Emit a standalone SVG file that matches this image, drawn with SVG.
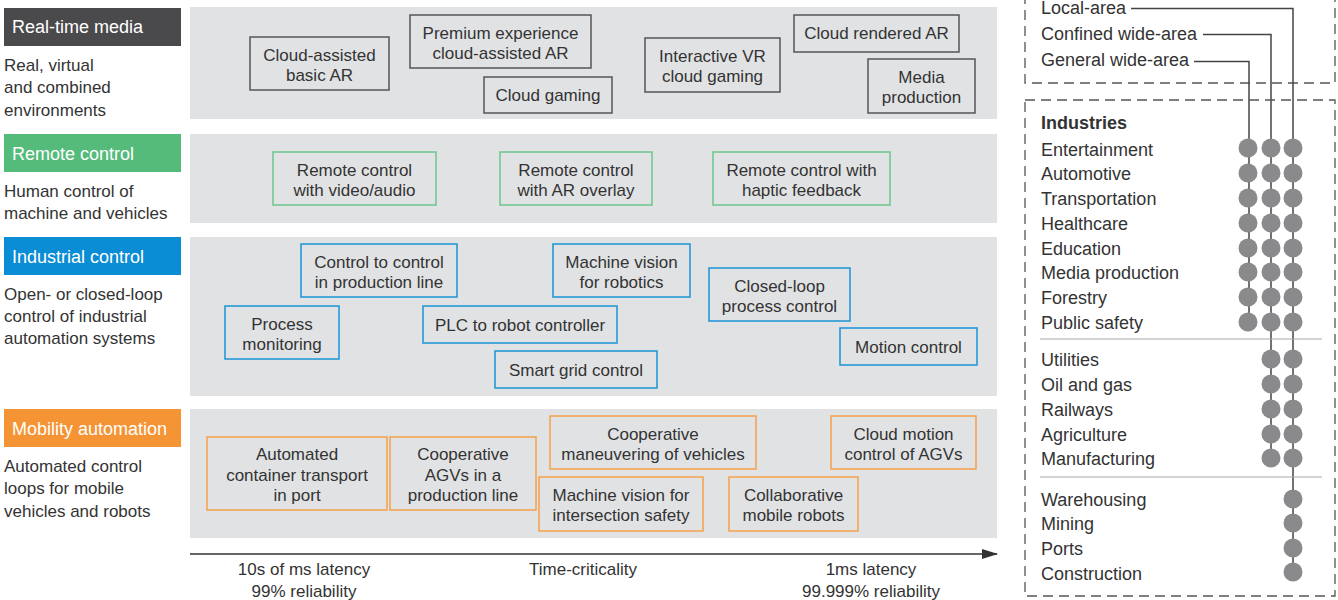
<svg xmlns="http://www.w3.org/2000/svg" width="1338" height="600" viewBox="0 0 1338 600">
<style>
text{font-family:"Liberation Sans",Arial,sans-serif;font-size:17px;fill:#333}
.cat{fill:#fff;font-size:18px}
.rp text{font-size:18px}
.c{text-anchor:middle}
.panel{fill:#e1e2e4}
.n rect{fill:#e1e2e4;stroke-width:1.5}
.rtm rect{stroke:#555}
.rc rect{stroke:#6cc68c}
.ic rect{stroke:#1a94d6}
.ma rect{stroke:#f5a04a}
.dash{fill:none;stroke:#555;stroke-width:1.3;stroke-dasharray:10 6}
.vl{stroke:#444;stroke-width:1.5;fill:none}
.dot{fill:#8a8a8c}
.sep{stroke:#aaa;stroke-width:1.2}
</style>
<defs>
<marker id="arr" markerWidth="16" markerHeight="12" refX="15" refY="5" orient="auto" markerUnits="userSpaceOnUse"><path d="M0,0 L16,5 L0,10 Z" fill="#333"/></marker>
</defs>

<!-- categories -->
<g id="cat-rtm"><rect x="4" y="8" width="177" height="38" fill="#4a4a4c"/><text class="cat" x="12" y="33">Real-time media</text>
<text x="4" y="71">Real, virtual</text><text x="4" y="93">and combined</text><text x="4" y="116">environments</text></g>
<g id="cat-rc"><rect x="4" y="134" width="177" height="38" fill="#55bb7b"/><text class="cat" x="12" y="160">Remote control</text>
<text x="4" y="197">Human control of</text><text x="4" y="219">machine and vehicles</text></g>
<g id="cat-ic"><rect x="4" y="237" width="177" height="38" fill="#0a8dd4"/><text class="cat" x="12" y="263">Industrial control</text>
<text x="4" y="300">Open-  or closed-loop</text><text x="4" y="322">control of industrial</text><text x="4" y="344">automation systems</text></g>
<g id="cat-ma"><rect x="4" y="409" width="177" height="38" fill="#f59435"/><text class="cat" x="12" y="435">Mobility automation</text>
<text x="4" y="472">Automated control</text><text x="4" y="494">loops for mobile</text><text x="4" y="517">vehicles and robots</text></g>

<!-- panels -->
<rect class="panel" x="190" y="7" width="807" height="112"/>
<rect class="panel" x="190" y="134" width="807" height="89"/>
<rect class="panel" x="190" y="237" width="807" height="159"/>
<rect class="panel" x="190" y="409" width="807" height="129"/>

<!-- real-time media nodes -->
<g id="n1" class="n rtm"><rect x="250" y="37" width="139" height="53"/><text class="c" x="319.5" y="61">Cloud-assisted</text><text class="c" x="319.5" y="81">basic AR</text></g>
<g id="n2" class="n rtm"><rect x="410" y="15" width="181" height="53"/><text class="c" x="500.5" y="39">Premium experience</text><text class="c" x="500.5" y="59">cloud-assisted AR</text></g>
<g id="n3" class="n rtm"><rect x="484" y="77" width="128" height="36"/><text class="c" x="548" y="101">Cloud gaming</text></g>
<g id="n4" class="n rtm"><rect x="645" y="38" width="135" height="54"/><text class="c" x="712.5" y="62">Interactive VR</text><text class="c" x="712.5" y="82">cloud gaming</text></g>
<g id="n5" class="n rtm"><rect x="794" y="15" width="165" height="37"/><text class="c" x="876.5" y="39">Cloud rendered AR</text></g>
<g id="n6" class="n rtm"><rect x="868" y="59" width="107" height="54"/><text class="c" x="921.5" y="83">Media</text><text class="c" x="921.5" y="103">production</text></g>

<!-- remote control nodes -->
<g id="n7" class="n rc"><rect x="273" y="152" width="163" height="53"/><text class="c" x="354.5" y="176">Remote control</text><text class="c" x="354.5" y="196">with video/audio</text></g>
<g id="n8" class="n rc"><rect x="500" y="152" width="152" height="53"/><text class="c" x="576" y="176">Remote control</text><text class="c" x="576" y="196">with AR overlay</text></g>
<g id="n9" class="n rc"><rect x="713" y="152" width="177" height="53"/><text class="c" x="801.5" y="176">Remote control with</text><text class="c" x="801.5" y="196">haptic feedback</text></g>

<!-- industrial control nodes -->
<g id="n10" class="n ic"><rect x="301" y="244" width="156" height="53"/><text class="c" x="379" y="268">Control to control</text><text class="c" x="379" y="288">in production line</text></g>
<g id="n11" class="n ic"><rect x="225" y="306" width="114" height="53"/><text class="c" x="282" y="330">Process</text><text class="c" x="282" y="350">monitoring</text></g>
<g id="n12" class="n ic"><rect x="423" y="306" width="194" height="37"/><text class="c" x="520" y="331">PLC to robot controller</text></g>
<g id="n13" class="n ic"><rect x="495" y="351" width="162" height="37"/><text class="c" x="576" y="376">Smart grid control</text></g>
<g id="n14" class="n ic"><rect x="553" y="244" width="137" height="53"/><text class="c" x="621.5" y="268">Machine vision</text><text class="c" x="621.5" y="288">for robotics</text></g>
<g id="n15" class="n ic"><rect x="709" y="268" width="141" height="53"/><text class="c" x="779.5" y="292">Closed-loop</text><text class="c" x="779.5" y="312">process control</text></g>
<g id="n16" class="n ic"><rect x="840" y="328" width="137" height="37"/><text class="c" x="908.5" y="353">Motion control</text></g>

<!-- mobility automation nodes -->
<g id="n17" class="n ma"><rect x="207" y="437" width="180" height="73"/><text class="c" x="297" y="460">Automated</text><text class="c" x="297" y="481">container transport</text><text class="c" x="297" y="501">in port</text></g>
<g id="n18" class="n ma"><rect x="390" y="437" width="146" height="73"/><text class="c" x="463" y="460">Cooperative</text><text class="c" x="463" y="481">AGVs in a</text><text class="c" x="463" y="501">production line</text></g>
<g id="n19" class="n ma"><rect x="550" y="416" width="206" height="53"/><text class="c" x="653" y="440">Cooperative</text><text class="c" x="653" y="460">maneuvering of vehicles</text></g>
<g id="n20" class="n ma"><rect x="539" y="477" width="164" height="54"/><text class="c" x="621" y="501">Machine vision for</text><text class="c" x="621" y="521">intersection safety</text></g>
<g id="n21" class="n ma"><rect x="729" y="477" width="129" height="54"/><text class="c" x="793.5" y="501">Collaborative</text><text class="c" x="793.5" y="521">mobile robots</text></g>
<g id="n22" class="n ma"><rect x="831" y="416" width="145" height="53"/><text class="c" x="903.5" y="440">Cloud motion</text><text class="c" x="903.5" y="460">control of AGVs</text></g>

<!-- axis -->
<g id="axis">
<line x1="190" y1="554" x2="997" y2="554" stroke="#333" stroke-width="1.5" marker-end="url(#arr)"/>
<text class="c" x="304" y="575">10s of ms latency</text><text class="c" x="304" y="597">99% reliability</text>
<text class="c" x="583" y="575">Time-criticality</text>
<text class="c" x="871" y="575">1ms latency</text><text class="c" x="871" y="597">99.999% reliability</text>
</g>

<!-- right panel -->
<g id="coverage" class="rp">
<path class="dash" d="M1025,-6 V83 H1335 V-6"/>
<text x="1041" y="14">Local-area</text>
<text x="1041" y="40">Confined wide-area</text>
<text x="1041" y="66">General wide-area</text>
</g>
<g id="connectors">
<path class="vl" d="M1131,8.5 H1293 V572"/>
<path class="vl" d="M1203,34.5 H1271 V458"/>
<path class="vl" d="M1194,61.5 H1249 V322"/>
</g>
<g id="industries" class="rp">
<rect class="dash" x="1025" y="100" width="310" height="496"/>
<text x="1041" y="129" font-weight="bold">Industries</text>
<text x="1041" y="156">Entertainment</text>
<text x="1041" y="180">Automotive</text>
<text x="1041" y="205">Transportation</text>
<text x="1041" y="230">Healthcare</text>
<text x="1041" y="255">Education</text>
<text x="1041" y="279">Media production</text>
<text x="1041" y="304">Forestry</text>
<text x="1041" y="329">Public safety</text>
<line class="sep" x1="1040" y1="339" x2="1322" y2="339"/>
<text x="1041" y="366">Utilities</text>
<text x="1041" y="391">Oil and gas</text>
<text x="1041" y="416">Railways</text>
<text x="1041" y="441">Agriculture</text>
<text x="1041" y="465">Manufacturing</text>
<line class="sep" x1="1040" y1="477" x2="1322" y2="477"/>
<text x="1041" y="506">Warehousing</text>
<text x="1041" y="530">Mining</text>
<text x="1041" y="555">Ports</text>
<text x="1041" y="580">Construction</text>
<g class="dot">
<circle cx="1248" cy="148" r="9.5"/><circle cx="1271" cy="148" r="9.5"/><circle cx="1293" cy="148" r="9.5"/>
<circle cx="1248" cy="173" r="9.5"/><circle cx="1271" cy="173" r="9.5"/><circle cx="1293" cy="173" r="9.5"/>
<circle cx="1248" cy="198" r="9.5"/><circle cx="1271" cy="198" r="9.5"/><circle cx="1293" cy="198" r="9.5"/>
<circle cx="1248" cy="223" r="9.5"/><circle cx="1271" cy="223" r="9.5"/><circle cx="1293" cy="223" r="9.5"/>
<circle cx="1248" cy="248" r="9.5"/><circle cx="1271" cy="248" r="9.5"/><circle cx="1293" cy="248" r="9.5"/>
<circle cx="1248" cy="272" r="9.5"/><circle cx="1271" cy="272" r="9.5"/><circle cx="1293" cy="272" r="9.5"/>
<circle cx="1248" cy="297" r="9.5"/><circle cx="1271" cy="297" r="9.5"/><circle cx="1293" cy="297" r="9.5"/>
<circle cx="1248" cy="322" r="9.5"/><circle cx="1271" cy="322" r="9.5"/><circle cx="1293" cy="322" r="9.5"/>
<circle cx="1271" cy="359" r="9.5"/><circle cx="1293" cy="359" r="9.5"/>
<circle cx="1271" cy="384" r="9.5"/><circle cx="1293" cy="384" r="9.5"/>
<circle cx="1271" cy="409" r="9.5"/><circle cx="1293" cy="409" r="9.5"/>
<circle cx="1271" cy="434" r="9.5"/><circle cx="1293" cy="434" r="9.5"/>
<circle cx="1271" cy="458" r="9.5"/><circle cx="1293" cy="458" r="9.5"/>
<circle cx="1293" cy="499" r="9.5"/>
<circle cx="1293" cy="523" r="9.5"/>
<circle cx="1293" cy="548" r="9.5"/>
<circle cx="1293" cy="572" r="9.5"/>
</g>
</g>
</svg>
